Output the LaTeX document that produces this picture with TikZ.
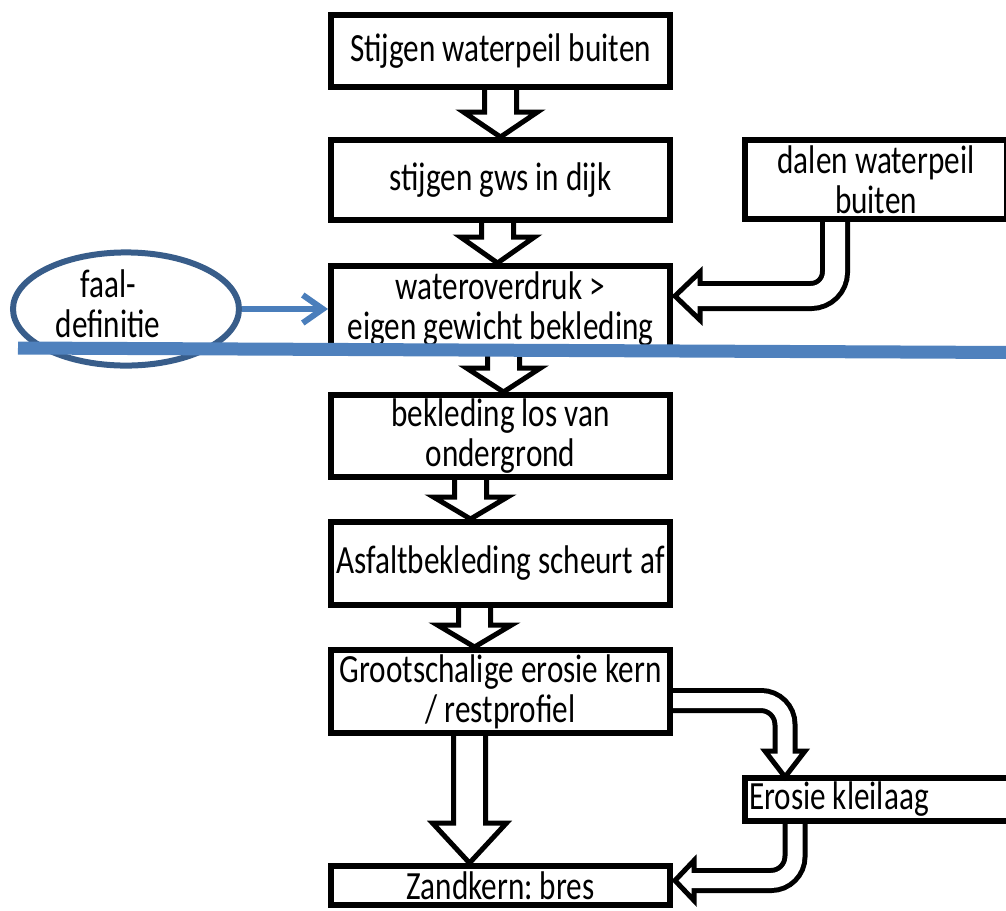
\documentclass[tikz,border=0pt]{standalone}
\usepackage{fontspec}
\setmainfont{Carlito}[FakeStretch=0.78]
\usepackage{tikz}
\usetikzlibrary{arrows.meta,positioning,calc,shapes.geometric}
\frenchspacing

\definecolor{cutblue}{HTML}{4F81BD}
\definecolor{ovalblue}{HTML}{385D8A}
\definecolor{linkblue}{HTML}{4A7EBB}

% hollow block arrow pointing down: from, to, xshift, head length
\newcommand{\fatdown}[4]{%
	\draw[fatarrow] let \p1=($(#1)+(#3,0)$), \p2=(#2) in
	(\x1-16pt,\y1) -- (\x1-16pt,\y2+#4) -- (\x1-37pt,\y2+#4) -- (\x1,\y2)
	-- (\x1+37pt,\y2+#4) -- (\x1+16pt,\y2+#4) -- (\x1+16pt,\y1);
}

\begin{document}
\begin{tikzpicture}
	[x=1pt, y=1pt, font=\fontsize{40}{40}\selectfont,
		% STYLES
		% The stepbox style is used for the steps of the failure path
		stepbox/.style={rectangle, draw, line width=6pt, inner sep=0pt,
				minimum width=339pt, minimum height=83pt, align=center},
		% The oval holds the failure definition
		oval/.style={ellipse, draw=ovalblue, line width=6pt, inner sep=0pt,
				minimum width=226pt, minimum height=78pt},
		fatarrow/.style={draw, fill=white, line width=5pt, line join=miter},
		pipe/.style={draw, line width=#1, rounded corners=24pt},
		pipegap/.style={draw=white, line width=#1, rounded corners=24pt},
		pipehead/.style={draw, fill=white, line width=5pt, line join=miter},
		link/.style={draw=linkblue, line width=6pt,
				-{Straight Barb[length=20pt,width=28pt]}},
		failline/.style={draw=cutblue, line width=13pt}]

	\useasboundingbox (0,0) rectangle (1006,-910);

	% Draw steps
	\node [stepbox, minimum height=72pt] (b1) at (500.5,-51) {Stijgen waterpeil buiten};
	\node [stepbox, minimum height=80pt, below=47pt of b1] (b2) {stijgen gws in dijk};
	\node [stepbox, minimum height=86pt, below=40pt of b2] (b3) {wateroverdruk >\\eigen gewicht bekleding};
	\node [stepbox, minimum height=82pt, below=37pt of b3] (b4) {bekleding los van\\ondergrond};
	\node [stepbox, below=39pt of b4] (b5) {Asfaltbekleding scheurt af};
	\node [stepbox, below=39pt of b5] (b6) {Grootschalige erosie kern\\/ restprofiel};
	\node [stepbox, minimum height=39pt, below=127pt of b6] (zand) {Zandkern: bres};

	\node [stepbox, minimum width=262pt, minimum height=79pt,
		right=69pt of b2.north east, anchor=north west] (dalen) {dalen waterpeil\\buiten};
	\node [stepbox, minimum width=0pt, minimum height=43pt, inner xsep=4pt,
		text width=270pt, align=justify, below right=39pt and 69pt of b6.south east] (erosie) {Erosie kleilaag};

	\node [oval, left=86pt of b3] (faal) {\hspace*{-36pt}\begin{tabular}{@{}c@{}}faal-\\definitie\end{tabular}};

	% Straight arrows
	\fatdown{b1.south}{b2.north}{0pt}{25pt}
	\fatdown{b2.south}{b3.north}{-3pt}{26pt}
	\fatdown{b3.south}{b4.north}{3pt}{24pt}
	\fatdown{b4.south}{b5.north}{-30pt}{22pt}
	\fatdown{b5.south}{b6.north}{-26pt}{22pt}
	\fatdown{b6.south}{zand.north}{-31pt}{40pt}

	% Bent arrows
	\coordinate (dtop) at ($(dalen.south)+(-41pt,0)$);
	\coordinate (dbase) at ($(b3.east)+(27pt,13pt)$);
	\coordinate (dtip) at ($(b3.east)+(2pt,13pt)$);
	\draw[pipe=30pt] (dtop) |- (dbase);
	\draw[pipehead] ($(dbase)+(0,24pt)$) -- (dtip) -- ($(dbase)+(0,-24pt)$) -- cycle;
	\draw[pipegap=20pt] (dtop) |- ($(dbase)+(-4pt,0)$);

	\coordinate (etop) at ($(b6.east)+(0,-9pt)$);
	\coordinate (ebase) at ($(erosie.north west)+(43pt,24pt)$);
	\coordinate (etip) at ($(erosie.north west)+(43pt,-2pt)$);
	\draw[pipe=25pt] (etop) -| (ebase);
	\draw[pipehead] ($(ebase)+(-20pt,0)$) -- (etip) -- ($(ebase)+(20pt,0)$) -- cycle;
	\draw[pipegap=15pt] (etop) -| ($(ebase)+(0,-4pt)$);

	\coordinate (ztop) at ($(erosie.south west)+(53pt,0)$);
	\coordinate (zbase) at ($(zand.east)+(21pt,5pt)$);
	\coordinate (ztip) at ($(zand.east)+(2pt,5pt)$);
	\draw[pipe=25pt] (ztop) |- (zbase);
	\draw[pipehead] ($(zbase)+(0,20pt)$) -- (ztip) -- ($(zbase)+(0,-20pt)$) -- cycle;
	\draw[pipegap=15pt] (ztop) |- ($(zbase)+(-4pt,0)$);

	% Failure definition
	\draw[link] (faal) -- (b3);
	\draw[failline] (18,-348) -- (1012,-352.5);
\end{tikzpicture}
\end{document}
